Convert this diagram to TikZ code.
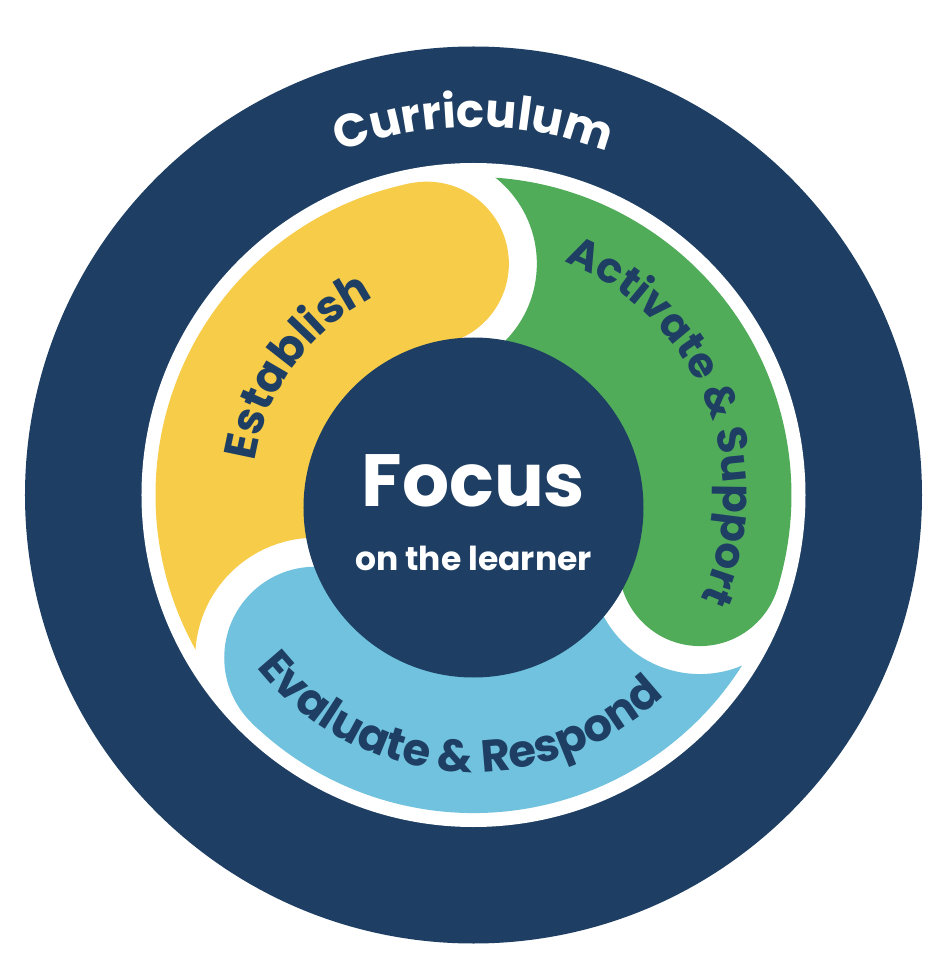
\documentclass[tikz,border=0pt]{standalone}
\usepackage{fontspec}
\setmainfont{Poppins}
\usetikzlibrary{decorations.text}
\definecolor{navy}{RGB}{30,63,99}
\definecolor{bandyellow}{RGB}{246,204,72}
\definecolor{bandgreen}{RGB}{81,172,90}
\definecolor{bandblue}{RGB}{112,194,222}
\newcommand\bandfont{\fontsize{45}{45}\selectfont\bfseries}
\newcommand\greenfont{\fontsize{42}{42}\selectfont\bfseries}
\newcommand\curfont{\fontsize{46.5}{46.5}\selectfont\bfseries}
\begin{document}
\begin{tikzpicture}[x=1pt,y=1pt,
  arclabel/.style={decorate, decoration={text along path, text align=center, text color=navy, text={#1}}},
  arclabelwhite/.style={decorate, decoration={text along path, text align=center, text color=white, text={#1}}},
  hub/.style={circle, fill=navy, minimum size=340pt, inner sep=0pt},
  hubtext/.style={anchor=base, text=white, inner sep=0pt}
 ]
\useasboundingbox (-473.5,-466) rectangle (471.5,495);
\fill[white] (-473.5,-466) rectangle (471.5,495);
\fill[navy] (0,0) circle (448.5);
\fill[white] (0,0) circle (332);
\coordinate (Yc) at (101.4:236);
\coordinate (Gc) at (-17.2:237);
\coordinate (Bc) at (225.8:227);
% yellow band
\begin{scope}
 \clip (-480,-480) -- (-480,480) -- (480,480) -- (480,-480) -- cycle
       (Bc) ++(120,0) arc[start angle=0, end angle=360, radius=120];
 \fill[bandyellow] (0,0) -- (225.8:318) arc[start angle=225.8, end angle=101.4, radius=318] -- cycle;
\end{scope}
\fill[bandyellow] (Yc) circle (82);
% green band
\begin{scope}
 \clip (-480,-480) -- (-480,480) -- (480,480) -- (480,-480) -- cycle
       (Yc) ++(110,0) arc[start angle=0, end angle=360, radius=110];
 \fill[bandgreen] (0,0) -- (101.4:318) arc[start angle=101.4, end angle=-17.2, radius=318] -- cycle;
\end{scope}
\fill[bandgreen] (Gc) circle (81);
% blue band
\begin{scope}
 \clip (-480,-480) -- (-480,480) -- (480,480) -- (480,-480) -- cycle
       (Gc) ++(109,0) arc[start angle=0, end angle=360, radius=109];
 \fill[bandblue] (0,0) -- (-17.2:318) arc[start angle=-17.2, end angle=-134.2, radius=318] -- cycle;
\end{scope}
\fill[bandblue] (Bc) circle (91);
% hub
\node[hub] (focuscircle) at (0,-12.5) {};
\node[hubtext, font=\fontsize{74}{74}\selectfont\bfseries] (focus) at (0,-11) {Focus};
\node[hubtext, font=\fontsize{33}{33}\selectfont\bfseries] (learner) at (0,-75) {on the learner};
% curved labels
\path[arclabelwhite={|\curfont|Curriculum}] (135:368) arc[start angle=135, end angle=45, radius=368];
\path[arclabel={|\bandfont|Establish}] (189:221) arc[start angle=189, end angle=99, radius=221];
\path[arclabel={|\greenfont|Activate {\&} Support}] (82:250) arc[start angle=82, end angle=-38, radius=250];
\path[arclabel={|\bandfont|Evaluate {\&} Respond}] (206:277) arc[start angle=206, end angle=326, radius=277];
\end{tikzpicture}
\end{document}
